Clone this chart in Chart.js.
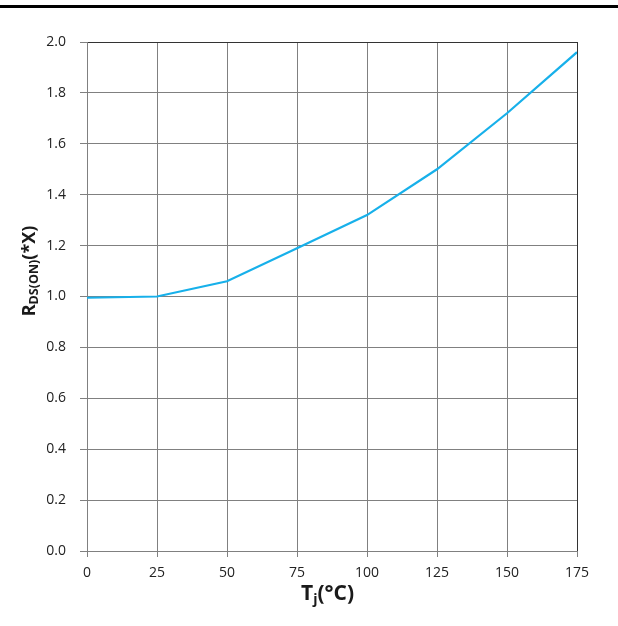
<!DOCTYPE html>
<html>
<head>
<meta charset="utf-8">
<script src="https://cdn.jsdelivr.net/npm/chart.js@4/dist/chart.umd.min.js"></script>
<style>
  html, body { margin:0; padding:0; background:#fff; }
  #wrap { position:relative; width:618px; height:626px; }
</style>
</head>
<body>
<div id="wrap"><canvas id="chart"></canvas></div>
<script>
// ── Data ─────────────────────────────────────
const tempC  = [0, 25, 50, 75, 100, 125, 150, 175];
const rdsOn  = [0.995, 1.0, 1.06, 1.19, 1.32, 1.50, 1.72, 1.96];
const xTicks = [0, 25, 50, 75, 100, 125, 150, 175];
const yTicks = [0, 0.2, 0.4, 0.6, 0.8, 1.0, 1.2, 1.4, 1.6, 1.8, 2.0];

const font = "'Open Sans', 'Liberation Sans', sans-serif";
const gridGrey = '#808080';
const edgeDark = '#333333';

// ── Titles with subscripts + top rule ─────────
const titles = {
  id: 'titles',
  afterDraw(chart) {
    const c = chart.ctx;
    c.save();
    c.fillStyle = '#000';
    c.fillRect(0, 5, chart.width, 3);

    c.fillStyle = '#1a1a1a';
    c.textBaseline = 'alphabetic';
    c.textAlign = 'left';

    // x title: Tj(°C)
    const xParts = [
      { t:'T', f:'bold 21px ' + font, dy:0 },
      { t:'j', f:'bold 14px ' + font, dy:4 },
      { t:'(°C)', f:'bold 21px ' + font, dy:0 }
    ];
    drawParts(c, xParts, 327.5, 600);

    // y title: RDS(ON)(*X), rotated
    c.translate(35, 271);
    c.rotate(-Math.PI / 2);
    const yParts = [
      { t:'R', f:'bold 18px ' + font, dy:0 },
      { t:'DS(ON)', f:'bold 12.5px ' + font, dy:3 },
      { t:'(*X)', f:'bold 18px ' + font, dy:0 }
    ];
    drawParts(c, yParts, 0, 0);
    c.restore();
  }
};

function drawParts(c, parts, cx, base) {
  let w = 0;
  parts.forEach(p => { c.font = p.f; p.w = c.measureText(p.t).width; w += p.w; });
  let x = cx - w / 2;
  parts.forEach(p => { c.font = p.f; c.fillText(p.t, x, base + p.dy); x += p.w; });
}

// ── Chart ─────────────────────────────────────
new Chart(document.getElementById('chart'), {
  type: 'line',
  data: {
    datasets: [{
      data: tempC.map((t, i) => ({ x: t, y: rdsOn[i] })),
      borderColor: '#17b0ea',
      borderWidth: 2.2,
      pointRadius: 0,
      tension: 0,
      fill: false
    }]
  },
  options: {
    responsive: true,
    maintainAspectRatio: false,
    animation: false,
    layout: { padding: { top: 42, right: 41, left: 0, bottom: 0 } },
    plugins: { legend: { display: false }, tooltip: { enabled: false } },
    scales: {
      x: {
        type: 'linear', min: 0, max: 175,
        afterBuildTicks: s => { s.ticks = xTicks.map(v => ({ value: v })); },
        afterFit: s => { s.height = 75; },
        grid: {
          color: ctx => ctx.tick && ctx.tick.value === 175 ? edgeDark : gridGrey,
          tickColor: gridGrey, tickLength: 6, lineWidth: 1
        },
        border: { color: gridGrey },
        ticks: { color: '#222', font: { family: font, size: 14 }, padding: 8, maxRotation: 0 }
      },
      y: {
        min: 0, max: 2,
        afterBuildTicks: s => { s.ticks = yTicks.map(v => ({ value: v })); },
        afterFit: s => { s.width = 87; },
        grid: {
          color: ctx => ctx.tick && ctx.tick.value === 2 ? edgeDark : gridGrey,
          tickColor: gridGrey, tickLength: 7, lineWidth: 1
        },
        border: { color: gridGrey },
        ticks: { color: '#222', font: { family: font, size: 14 }, padding: 14, callback: v => v.toFixed(1) }
      }
    }
  },
  plugins: [titles]
});
</script>
</body>
</html>
